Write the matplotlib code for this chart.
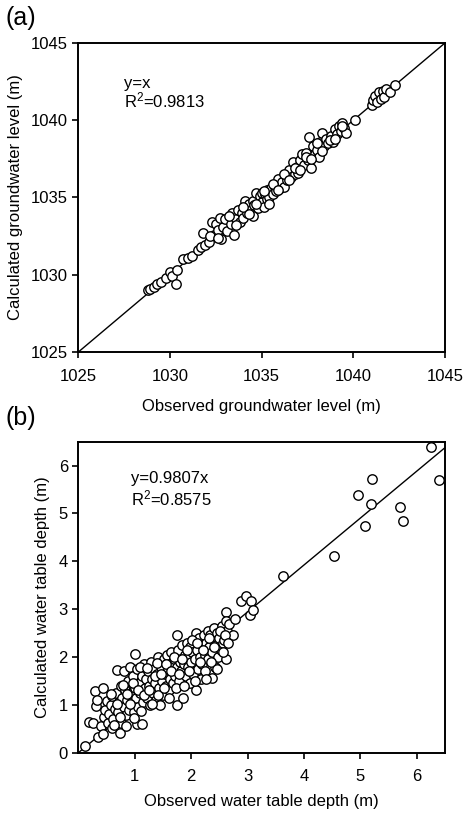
import matplotlib
matplotlib.use("Agg")
import matplotlib.pyplot as plt
import numpy as np

plt.rcParams['font.family'] = ['Liberation Sans', 'DejaVu Sans']
plt.rcParams['mathtext.default'] = 'regular'
plt.rcParams['font.size'] = 12

# (a) groundwater level, observed vs calculated (m)
obs_level = [
    1028.8, 1028.9, 1029.1, 1029.3, 1029.5, 1029.8, 1030.0, 1030.1, 1030.3, 1030.4,
    1030.7, 1031.0, 1031.2, 1031.5, 1031.7, 1031.8, 1031.9, 1032.1, 1032.3, 1032.4,
    1032.5, 1032.6, 1032.7, 1032.8, 1032.9, 1033.0, 1033.1, 1033.3, 1033.4, 1033.5,
    1033.6, 1033.7, 1033.8, 1033.9, 1034.0, 1034.1, 1034.2, 1034.3, 1034.4, 1034.5,
    1034.5, 1034.6, 1034.7, 1034.8, 1034.9, 1035.0, 1035.0, 1035.1, 1035.2, 1035.3,
    1035.3, 1035.4, 1035.5, 1035.6, 1035.7, 1035.8, 1035.9, 1036.0, 1036.1, 1036.2,
    1036.3, 1036.4, 1036.5, 1036.6, 1036.7, 1036.8, 1036.9, 1037.0, 1037.1, 1037.2,
    1037.3, 1037.4, 1037.5, 1037.6, 1037.7, 1037.8, 1037.9, 1038.0, 1038.1, 1038.2,
    1038.3, 1038.4, 1038.5, 1038.6, 1038.8, 1038.9, 1039.0, 1039.1, 1039.2, 1039.3,
    1039.4, 1039.5, 1039.6, 1040.1, 1041.0, 1041.1, 1041.2, 1041.3, 1041.4, 1041.5,
    1041.6, 1041.7, 1041.8, 1042.0, 1042.3,
    1032.2, 1032.6, 1033.2, 1033.6, 1034.0, 1034.3, 1034.7, 1035.1, 1035.4, 1035.6,
    1035.9, 1036.2, 1036.5, 1036.8, 1037.1, 1037.4, 1037.7, 1038.0, 1038.3, 1038.7,
    1039.0, 1039.4,
]
calc_level = [
    1029.0, 1029.1, 1029.2, 1029.4, 1029.5, 1029.8, 1030.2, 1029.9, 1029.4, 1030.3,
    1031.0, 1031.1, 1031.2, 1031.6, 1031.8, 1032.7, 1031.9, 1032.1, 1033.4, 1032.6,
    1033.3, 1032.9, 1033.7, 1032.3, 1033.1, 1033.6, 1032.8, 1033.3, 1034.0, 1032.6,
    1033.6, 1034.2, 1033.4, 1034.0, 1033.7, 1034.8, 1034.0, 1034.6, 1034.2, 1033.8,
    1034.8, 1034.5, 1035.3, 1034.3, 1035.1, 1034.7, 1035.3, 1034.4, 1035.2, 1034.9,
    1035.5, 1035.0, 1035.6, 1035.2, 1035.7, 1035.4, 1036.2, 1035.6, 1036.0, 1035.7,
    1036.4, 1036.1, 1036.8, 1036.3, 1037.3, 1036.5, 1037.0, 1036.6, 1037.4, 1037.8,
    1037.1, 1037.9, 1037.4, 1038.9, 1036.9, 1038.3, 1037.8, 1038.1, 1037.6, 1038.6,
    1039.2, 1038.3, 1038.8, 1038.5, 1039.0, 1038.6, 1039.4, 1039.1, 1039.6, 1039.3,
    1039.8, 1039.5, 1039.2, 1040.0, 1041.0, 1041.3, 1041.6, 1041.2, 1041.8, 1041.4,
    1041.9, 1041.5, 1042.0, 1041.8, 1042.3,
    1032.5, 1032.4, 1033.8, 1033.2, 1034.4, 1033.9, 1034.6, 1035.4, 1034.6, 1035.9,
    1035.5, 1036.5, 1036.1, 1036.9, 1036.8, 1037.6, 1037.5, 1038.5, 1038.0, 1038.7,
    1038.8, 1039.6,
]

# (b) water table depth, observed vs calculated (m)
obs_depth = [
    0.12, 0.19, 0.26, 0.30, 0.32, 0.33, 0.35, 0.40, 0.43, 0.44,
    0.45, 0.48, 0.50, 0.52, 0.55, 0.57, 0.59, 0.60, 0.62, 0.64,
    0.66, 0.68, 0.70, 0.72, 0.74, 0.75, 0.76, 0.78, 0.80, 0.81,
    0.83, 0.85, 0.86, 0.88, 0.90, 0.91, 0.93, 0.95, 0.96, 0.98,
    1.00, 1.00, 1.02, 1.03, 1.04, 1.06, 1.08, 1.10, 1.12, 1.13,
    1.15, 1.17, 1.18, 1.20, 1.22, 1.24, 1.25, 1.27, 1.29, 1.30,
    1.32, 1.34, 1.36, 1.38, 1.40, 1.41, 1.43, 1.44, 1.46, 1.48,
    1.50, 1.52, 1.53, 1.55, 1.57, 1.58, 1.60, 1.62, 1.63, 1.65,
    1.67, 1.68, 1.70, 1.72, 1.74, 1.74, 1.75, 1.77, 1.79, 1.80,
    1.82, 1.84, 1.86, 1.87, 1.89, 1.90, 1.92, 1.94, 1.95, 1.97,
    1.98, 2.00, 2.02, 2.03, 2.05, 2.07, 2.08, 2.09, 2.10, 2.12,
    2.14, 2.15, 2.17, 2.19, 2.20, 2.22, 2.24, 2.25, 2.27, 2.29,
    2.30, 2.32, 2.34, 2.36, 2.37, 2.39, 2.40, 2.42, 2.44, 2.46,
    2.48, 2.50, 2.53, 2.55, 2.57, 2.59, 2.61, 2.61, 2.62, 2.64,
    2.67, 2.74, 2.77, 2.89, 2.97, 3.05, 3.06, 3.10, 3.62, 4.54,
    4.95, 5.09, 5.18, 5.20, 5.70, 5.75, 6.25, 6.39,
    0.58, 0.63, 0.69, 0.73, 0.79, 0.84, 0.87, 0.92, 0.97, 0.99,
    1.05, 1.09, 1.11, 1.16, 1.21, 1.26, 1.31, 1.35, 1.39, 1.42,
    1.47, 1.51, 1.56, 1.61, 1.64, 1.69, 1.73, 1.78, 1.83, 1.88,
    1.93, 1.96, 2.01, 2.06, 2.11, 2.16, 2.21, 2.26, 2.31, 2.35,
    2.41, 2.45, 2.51, 2.56, 2.60, 2.66,
]
calc_depth = [
    0.13, 0.64, 0.63, 1.28, 0.98, 1.10, 0.33, 0.55, 0.39, 1.35,
    0.75, 0.90, 1.08, 0.62, 0.80, 1.00, 0.51, 1.18, 0.70, 0.92,
    1.25, 1.73, 0.85, 1.05, 0.41, 1.40, 0.62, 1.15, 0.95, 1.70,
    1.30, 0.78, 1.10, 1.50, 0.90, 1.80, 1.25, 1.05, 1.60, 0.85,
    2.06, 1.35, 1.15, 0.61, 1.75, 0.95, 1.45, 1.25, 0.61, 1.60,
    1.05, 1.85, 1.35, 1.55, 1.15, 1.70, 1.40, 1.00, 1.90, 1.55,
    1.25, 1.75, 1.45, 1.10, 1.65, 2.00, 1.35, 1.00, 1.80, 1.50,
    1.20, 1.95, 1.65, 1.40, 2.05, 1.75, 1.30, 1.85, 1.55, 2.10,
    1.70, 1.45, 1.95, 1.60, 1.00, 2.46, 1.80, 2.15, 1.50, 1.90,
    1.70, 2.25, 1.14, 1.85, 2.05, 1.60, 2.30, 1.80, 2.00, 1.45,
    2.20, 1.90, 2.10, 1.65, 2.35, 1.95, 2.50, 1.31, 2.15, 1.75,
    2.40, 2.00, 1.55, 2.25, 1.85, 2.45, 2.05, 1.70, 2.30, 2.55,
    1.95, 2.20, 2.45, 1.56, 2.10, 2.35, 2.60, 1.80, 2.25, 2.50,
    2.00, 2.40, 2.15, 2.65, 2.30, 2.36, 1.96, 2.95, 2.76, 2.55,
    2.70, 2.46, 2.79, 3.16, 3.28, 2.87, 3.16, 2.99, 3.70, 4.12,
    5.38, 4.74, 5.20, 5.72, 5.13, 4.85, 6.39, 5.69,
    1.22, 0.58, 1.02, 0.75, 1.42, 0.55, 1.22, 1.02, 1.45, 0.72,
    1.30, 1.80, 0.88, 1.20, 1.78, 1.30, 1.02, 1.60, 1.88, 1.20,
    1.65, 1.35, 1.85, 1.15, 1.70, 2.00, 1.35, 1.65, 1.95, 1.40,
    2.15, 1.70, 2.35, 1.50, 2.30, 1.90, 2.15, 1.55, 2.40, 1.90,
    2.20, 1.75, 2.55, 2.10, 2.45, 2.30,
]
slope_b = 0.9807

fig = plt.figure(figsize=(4.64, 8.17), dpi=100)
ax1 = fig.add_axes([0.169, 0.5692, 0.790, 0.3782])
ax2 = fig.add_axes([0.169, 0.0787, 0.790, 0.3807])

for ax in (ax1, ax2):
    for sp in ax.spines.values():
        sp.set_linewidth(1.4)
    ax.tick_params(direction='out', length=4, width=1.2, labelsize=12)
    ax.tick_params(axis='x', pad=8)

# panel (a)
ax1.plot([1025, 1045], [1025, 1045], color='black', lw=1.0, zorder=1)
ax1.scatter(obs_level, calc_level, s=46, facecolor='white', edgecolor='black',
            linewidth=1.0, zorder=2)
ax1.set_xlim(1025, 1045)
ax1.set_ylim(1025, 1045)
ax1.set_xticks(np.arange(1025, 1046, 5))
ax1.set_yticks(np.arange(1025, 1046, 5))
ax1.set_xlabel("Observed groundwater level (m)", labelpad=11)
ax1.set_ylabel("Calculated groundwater level (m)", labelpad=6)
ax1.text(1027.5, 1042.4, "y=x", fontsize=12, va='center')
ax1.text(1027.5, 1041.3, r"R$^2$=0.9813", fontsize=12, va='center')

# panel (b)
ax2.plot([0, 6.6], [0, 6.6 * slope_b], color='black', lw=1.0, zorder=1)
ax2.scatter(obs_depth, calc_depth, s=46, facecolor='white', edgecolor='black',
            linewidth=1.0, zorder=2)
ax2.set_xlim(0, 6.5)
ax2.set_ylim(0, 6.5)
ax2.set_xticks([1, 2, 3, 4, 5, 6])
ax2.set_yticks([0, 1, 2, 3, 4, 5, 6])
ax2.set_xlabel("Observed water table depth (m)", labelpad=7)
ax2.set_ylabel("Calculated water table depth (m)", labelpad=6)
ax2.text(0.93, 5.73, "y=0.9807x", fontsize=12, va='center')
ax2.text(0.93, 5.31, r"R$^2$=0.8575", fontsize=12, va='center')

fig.text(0.012, 0.978, "(a)", fontsize=18, va='center')
fig.text(0.012, 0.488, "(b)", fontsize=18, va='center')

fig.savefig("out.png", dpi=100)
